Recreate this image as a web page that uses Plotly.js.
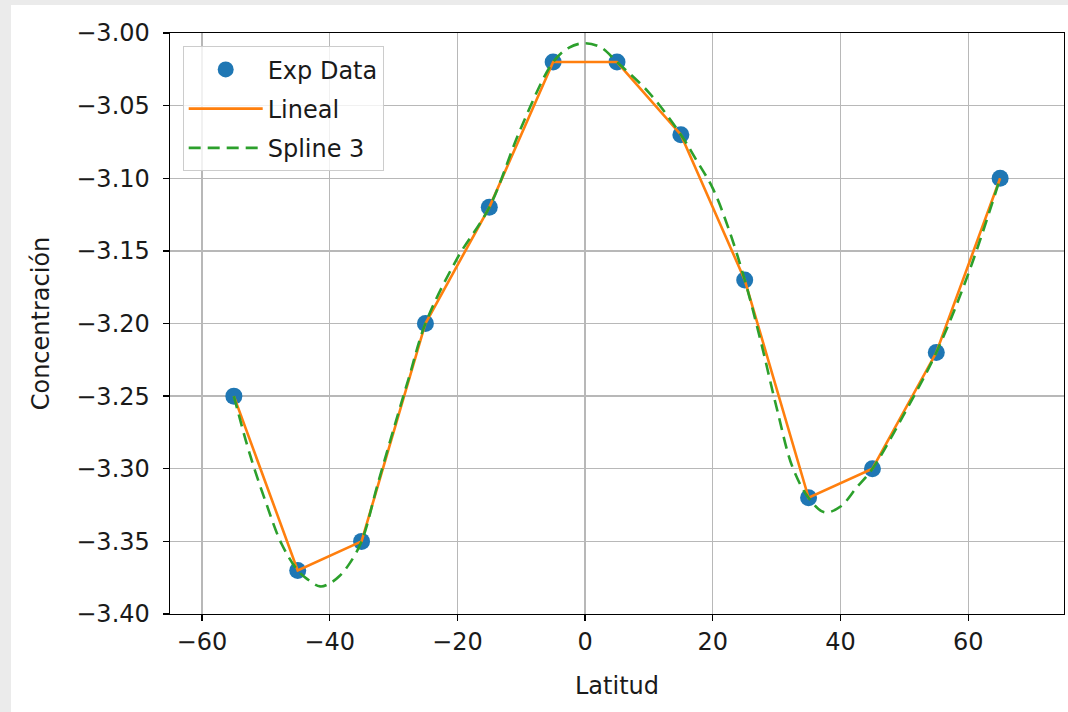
<!DOCTYPE html>
<html>
<head>
<meta charset="utf-8">
<script src="https://cdn.plot.ly/plotly-3.0.1.min.js"></script>
<style>
  html, body { margin: 0; padding: 0; background: #ebebeb; width: 1068px; height: 712px; overflow: hidden; }
  #chart { position: absolute; left: 11px; top: 5px; width: 1057px; height: 707px; background: #ffffff; }
</style>
</head>
<body>
<div id="chart"></div>
<script>
// Experimental data
const latitud = [-55, -45, -35, -25, -15, -5, 5, 15, 25, 35, 45, 55, 65];
const concentracion = [-3.25, -3.37, -3.35, -3.20, -3.12, -3.02, -3.02, -3.07, -3.17, -3.32, -3.30, -3.22, -3.10];

// Spline 3 curve
const splineX = [-55, -52.5, -50, -47.5, -45, -43.5, -41.5, -40, -38.5, -37, -35, -32.5, -30, -27.5, -25,
                 -20, -15, -10, -5, -2.5, 0, 2.5, 5, 10, 15, 17.5, 20, 22.5, 25, 27.5, 30, 32.5, 35,
                 37.5, 40, 42.5, 45, 50, 55, 60, 65];
const splineY = [-3.25, -3.29, -3.323, -3.352, -3.37, -3.376, -3.381, -3.379, -3.374, -3.366, -3.35, -3.311, -3.273, -3.236, -3.20,
                 -3.155, -3.12, -3.065, -3.02, -3.010, -3.007, -3.010, -3.02, -3.041, -3.07, -3.088, -3.107, -3.135, -3.17, -3.212, -3.258, -3.299, -3.32,
                 -3.330, -3.326, -3.313, -3.30, -3.262, -3.22, -3.166, -3.10];

const xTickVals = [-60, -40, -20, 0, 20, 40, 60];
const yTickVals = [-3.40, -3.35, -3.30, -3.25, -3.20, -3.15, -3.10, -3.05, -3.00];

const FONT = 'DejaVu Sans, sans-serif';
const FS = 24;
const TXT = '#1a1a1a';

const traces = [
  {
    x: latitud, y: concentracion, mode: 'markers', type: 'scatter', name: 'Exp Data', legendgroup: 'a',
    marker: { color: '#1f77b4', size: 17 }
  },
  {
    x: latitud, y: concentracion, mode: 'lines', type: 'scatter', name: 'Lineal', legendgroup: 'b',
    line: { color: '#ff7f0e', width: 2.6 }
  },
  {
    x: splineX, y: splineY, mode: 'lines', type: 'scatter', name: 'Spline 3', legendgroup: 'c',
    line: { color: '#2ca02c', width: 2.6, dash: '12px,7px', shape: 'spline', smoothing: 1 }
  }
];

const axisCommon = {
  showline: true, mirror: true, linecolor: '#000000', linewidth: 1.4,
  ticks: 'outside', ticklen: 6, tickwidth: 1.4, tickcolor: '#000000',
  showgrid: true, gridcolor: '#b8b8b8', gridwidth: 1.4, zeroline: false,
  tickfont: { family: FONT, size: FS, color: TXT }
};

const layout = {
  width: 1057, height: 707,
  paper_bgcolor: '#ffffff', plot_bgcolor: '#ffffff',
  margin: { l: 159, r: 4, t: 28, b: 98 },
  font: { family: FONT, size: FS, color: TXT },
  showlegend: true,
  legend: {
    x: 0.0142, y: 0.977, xanchor: 'left', yanchor: 'top',
    bgcolor: 'rgba(255,255,255,0.8)', bordercolor: '#cccccc', borderwidth: 1,
    traceorder: 'grouped', tracegroupgap: 5, itemwidth: 74,
    font: { family: FONT, size: FS, color: TXT }
  },
  xaxis: Object.assign({}, axisCommon, {
    range: [-65, 75], tickvals: xTickVals, ticktext: xTickVals.map(v => v < 0 ? '\u2212' + Math.abs(v) : String(v)),
    title: { text: 'Latitud', font: { family: FONT, size: FS, color: TXT }, standoff: 22 }
  }),
  yaxis: Object.assign({}, axisCommon, {
    range: [-3.4, -3.0], tickvals: yTickVals, ticktext: yTickVals.map(v => '\u2212' + Math.abs(v).toFixed(2)),
    ticklabelstandoff: 8,
    title: { text: 'Concentración', font: { family: FONT, size: FS, color: TXT }, standoff: 20 }
  })
};

Plotly.newPlot('chart', traces, layout, { displayModeBar: false, staticPlot: true });
</script>
</body>
</html>
